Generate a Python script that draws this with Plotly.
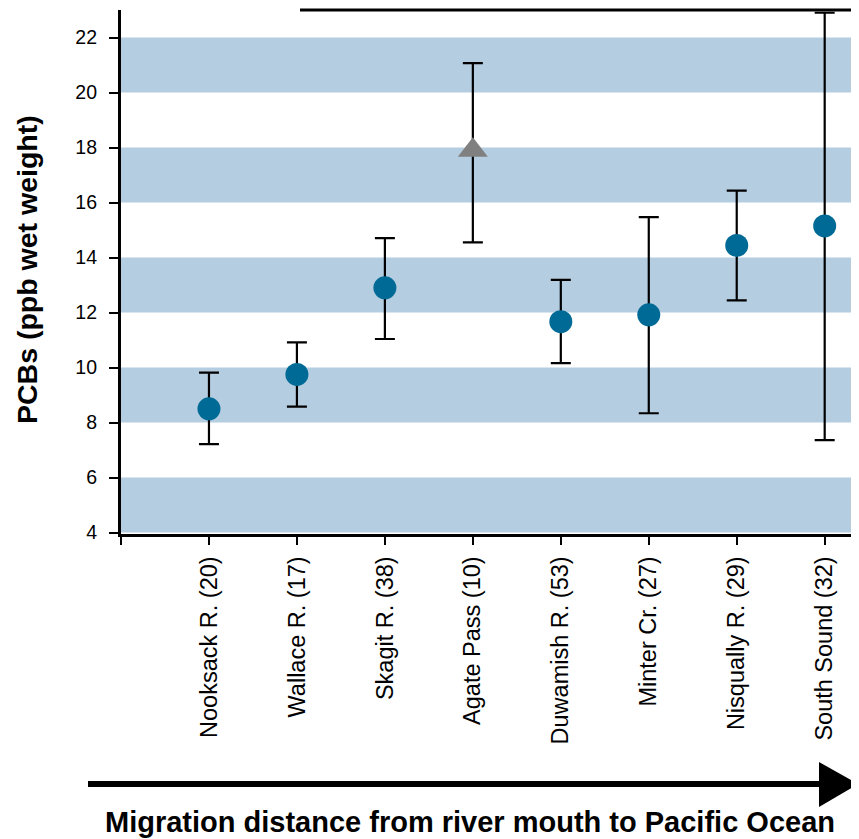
import plotly.graph_objects as go

# ---- data ----
sites = ["Nooksack R. (20)", "Wallace R. (17)", "Skagit R. (38)", "Agate Pass (10)",
         "Duwamish R. (53)", "Minter Cr. (27)", "Nisqually R. (29)", "South Sound (32)"]
positions = [1, 2, 3, 4, 5, 6, 7, 8]
pcb_mean = [8.5, 9.75, 12.9, 17.9, 11.67, 11.92, 14.44, 15.15]
pcb_upper = [9.82, 10.92, 14.71, 21.07, 13.19, 15.47, 16.43, 22.9]
pcb_lower = [7.22, 8.58, 11.04, 14.55, 10.16, 8.34, 12.44, 7.36]
is_marine = [False, False, False, True, False, False, False, False]
y_ticks = [4, 6, 8, 10, 12, 14, 16, 18, 20, 22]
band_ranges = [(4, 6), (8, 10), (12, 14), (16, 18), (20, 22)]
y_range = [3.95, 23.0]

OFF = 8          # page body margin
LABEL_EDGE = 97  # viewport x where the y tick labels end
AXIS_X = 121     # viewport x of the y axis line
W, H = 859 - OFF, 839 - OFF
L, R, T, B = LABEL_EDGE - OFF, 0, 10 - OFF, 839 - 534
pw, ph = W - L - R, H - T - B
dom0 = (AXIS_X - LABEL_EDGE) / pw

def px(xp):
    return (xp - OFF - L) / pw

def py(yp):
    return (H - B - (yp - OFF)) / ph

fig = go.Figure()

def add_group(mask, symbol, color, size):
    xs = [p for p, m in zip(positions, mask) if m]
    ys = [v for v, m in zip(pcb_mean, mask) if m]
    up = [u - v for u, v, m in zip(pcb_upper, pcb_mean, mask) if m]
    lo = [v - l for l, v, m in zip(pcb_lower, pcb_mean, mask) if m]
    fig.add_trace(go.Scatter(
        x=xs, y=ys, mode="markers",
        marker=dict(symbol=symbol, color=color, size=size, line=dict(width=0)),
        error_y=dict(type="data", symmetric=False, array=up, arrayminus=lo,
                     color="black", thickness=2.2, width=10),
        showlegend=False, cliponaxis=False))

add_group([not m for m in is_marine], "circle", "#006a96", 23)
add_group(is_marine, "triangle-up", "#808080", 26)
# carrier for the tick-label axis
fig.add_trace(go.Scatter(x=[None], y=[None], yaxis="y2", showlegend=False, hoverinfo="skip"))

shapes = []
for lo_, hi_ in band_ranges:
    shapes.append(dict(type="rect", xref="x domain", yref="y", x0=0, x1=1, y0=lo_, y1=hi_,
                       fillcolor="#b5cde0", line=dict(width=0), layer="below"))
# partial top border
shapes.append(dict(type="line", xref="paper", yref="paper", x0=px(300), x1=1, y0=1, y1=1,
                   line=dict(color="black", width=3)))
# migration arrow
ay = py(784)
shapes.append(dict(type="line", xref="paper", yref="paper", x0=px(88), x1=px(826), y0=ay, y1=ay,
                   line=dict(color="black", width=6)))
shapes.append(dict(type="path", xref="paper", yref="paper",
                   path=f"M {px(819)} {py(762)} L {px(858)} {ay} L {px(819)} {py(807)} Z",
                   fillcolor="black", line=dict(width=0)))

fig.update_layout(
    width=W, height=H,
    margin=dict(l=L, r=R, t=T, b=B),
    plot_bgcolor="white", paper_bgcolor="white",
    font=dict(family="Liberation Sans, Arial, sans-serif", color="black"),
    shapes=shapes,
    xaxis=dict(domain=[dom0, 1], range=[0, 8.39], tickvals=[0] + positions,
               ticktext=[""] + sites, tickangle=-90, ticks="outside", ticklen=8, tickwidth=2,
               tickcolor="black", showline=True, linecolor="black", linewidth=3,
               showgrid=False, zeroline=False, tickfont=dict(size=23.5), ticklabelstandoff=2),
    yaxis=dict(range=y_range, tickvals=y_ticks, ticks="outside", ticklen=9, tickwidth=2,
               tickcolor="black", showline=True, linecolor="black", linewidth=3,
               showgrid=False, zeroline=False, showticklabels=False),
    yaxis2=dict(overlaying="y", anchor="free", position=0, side="left", range=y_range,
                tickvals=y_ticks, ticks="", showline=False, showgrid=False, zeroline=False,
                tickfont=dict(size=19.5)),
    annotations=[
        dict(text="<b>PCBs (ppb wet weight)</b>", textangle=-90, xref="paper", yref="paper",
             x=px(27), y=py(270), xanchor="center", yanchor="middle",
             showarrow=False, font=dict(size=28.5)),
        dict(text="<b>Migration distance from river mouth to Pacific Ocean</b>", xref="paper",
             yref="paper", x=px(470), y=py(822), xanchor="center", yanchor="middle",
             showarrow=False, font=dict(size=29)),
    ],
)

fig.write_html("out.html")
